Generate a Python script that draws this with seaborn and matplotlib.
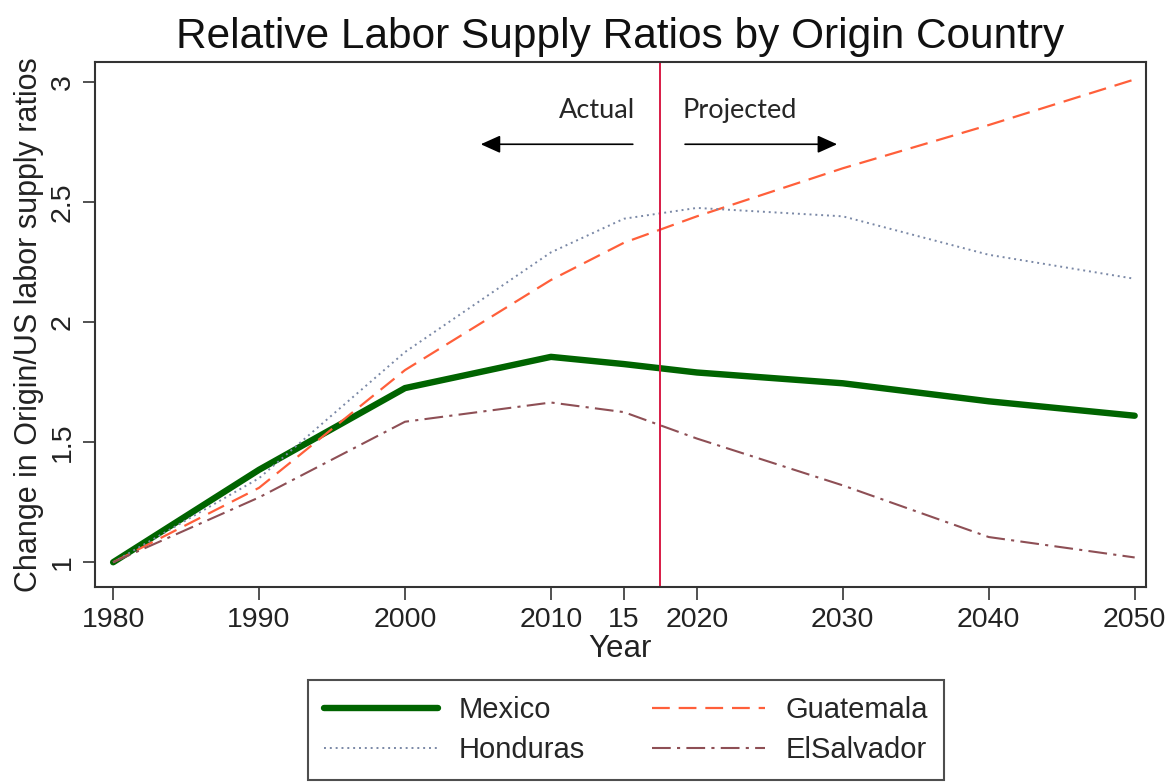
import numpy as np
import pandas as pd
import seaborn as sns
import matplotlib.pyplot as plt

# data
years = [1980, 1990, 2000, 2010, 2015, 2020, 2030, 2040, 2050]
mexico = [1.00, 1.385, 1.725, 1.855, 1.825, 1.79, 1.745, 1.67, 1.61]
guatemala = [1.00, 1.31, 1.80, 2.175, 2.33, 2.44, 2.64, 2.82, 3.01]
honduras = [1.00, 1.35, 1.875, 2.29, 2.43, 2.475, 2.44, 2.28, 2.18]
elsalvador = [1.00, 1.27, 1.585, 1.665, 1.625, 1.515, 1.32, 1.105, 1.02]
tick_years = [1980, 1990, 2000, 2010, 2015, 2020, 2030, 2040, 2050]
tick_labels = ["1980", "1990", "2000", "2010", "15", "2020", "2030", "2040", "2050"]
cutoff_year = 2017.5

series = {
	"Mexico": mexico,
	"Guatemala": guatemala,
	"Honduras": honduras,
	"ElSalvador": elsalvador,
}
styles = {
	"Mexico": dict(color="#006400", lw=4.6, dashes=(None, None)),
	"Guatemala": dict(color="#FF5F3A", lw=1.6, dashes=(8, 4)),
	"Honduras": dict(color="#7A88A6", lw=1.4, dashes=(1, 2)),
	"ElSalvador": dict(color="#8E4F55", lw=1.5, dashes=(9, 3, 1.5, 3)),
}

sns.set_theme(style="white")
plt.rcParams["font.family"] = ["Liberation Sans", "DejaVu Sans"]

fig, ax = plt.subplots(figsize=(11.75, 7.83), dpi=100)
fig.subplots_adjust(left=0.081, right=0.975, top=0.921, bottom=0.250)

handles = {}
for name, vals in series.items():
	df = pd.DataFrame({"year": years, "ratio": vals})
	st = styles[name]
	sns.lineplot(data=df, x="year", y="ratio", ax=ax, color=st["color"], lw=st["lw"], label=name, legend=False)
	line = ax.get_lines()[-1]
	if st["dashes"][0] is not None:
		line.set_dashes(st["dashes"])
	handles[name] = line

ax.axvline(cutoff_year, color="#D81B45", lw=1.4)

# Actual / Projected annotations
ax.text(2015.8, 2.83, "Actual", ha="right", va="bottom", fontsize=19.5, family=["Lato", "DejaVu Sans"])
ax.text(2019.0, 2.83, "Projected", ha="left", va="bottom", fontsize=19.5, family=["Lato", "DejaVu Sans"])
ax.annotate("", xy=(2005.0, 2.74), xytext=(2015.8, 2.74),
            arrowprops=dict(arrowstyle="-|>,head_length=1.0,head_width=0.45", color="black", lw=1.2))
ax.annotate("", xy=(2029.8, 2.74), xytext=(2019.0, 2.74),
            arrowprops=dict(arrowstyle="-|>,head_length=1.0,head_width=0.45", color="black", lw=1.2))

ax.set_xlim(1978.77, 2050.75)
ax.set_ylim(0.896, 3.083)
ax.set_xticks(tick_years)
ax.set_xticklabels(tick_labels)
ax.set_yticks([1, 1.5, 2, 2.5, 3])
ax.set_yticklabels(["1", "1.5", "2", "2.5", "3"], rotation=90, va="center")
ax.tick_params(axis="both", direction="out", length=9, width=1.2, color="#333333", labelsize=20.5, labelcolor="#222222", pad=5)
ax.tick_params(axis="x", bottom=True)
ax.tick_params(axis="y", left=True)
for sp in ax.spines.values():
	sp.set_color("#333333")
	sp.set_linewidth(1.5)

ax.set_xlabel("Year", fontsize=22.5, color="#222222", labelpad=1)
ax.set_ylabel("Change in Origin/US labor supply ratios", fontsize=22, color="#222222", labelpad=4)
ax.set_title("Relative Labor Supply Ratios by Origin Country", fontsize=30.5, color="#111111", pad=10)

order = ["Mexico", "Honduras", "Guatemala", "ElSalvador"]
leg = fig.legend([handles[n] for n in order], order, loc="lower center", bbox_to_anchor=(0.533, 0.004),
                 borderaxespad=0, ncol=2, fontsize=21, frameon=True, fancybox=False, edgecolor="#222222",
                 handlelength=3.9, columnspacing=2.3, handletextpad=0.7, borderpad=0.55, labelspacing=0.4)
leg.get_frame().set_linewidth(1.5)

fig.savefig("out.png", dpi=100)
plt.close()
